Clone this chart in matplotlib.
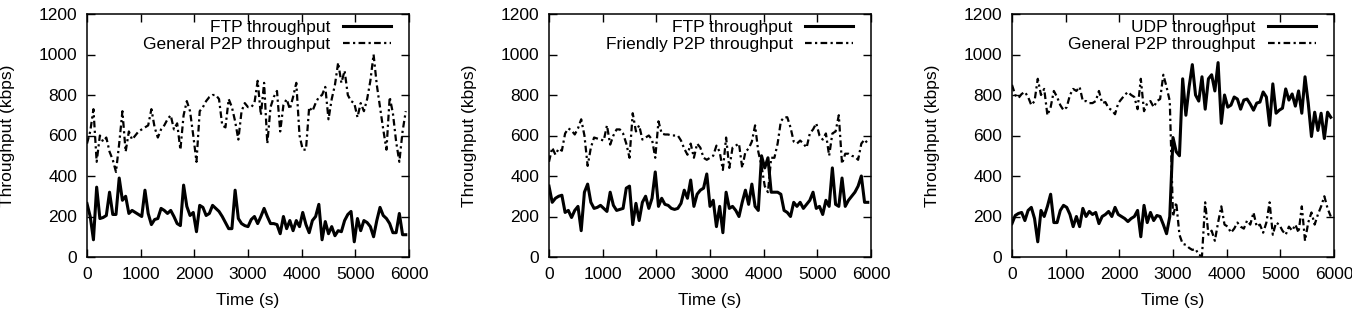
import numpy as np
import matplotlib
matplotlib.use("Agg")
import matplotlib.pyplot as plt

plt.rcParams["font.family"] = ["Liberation Sans", "DejaVu Sans"]
plt.rcParams["font.size"] = 12.5

# sampling interval of every series (s)
step = 60

# panel 1: FTP vs general P2P
ftp_1 = [264, 200, 85, 345, 190, 195, 205, 320, 210, 210,
         390, 280, 300, 215, 230, 220, 210, 200, 330, 215,
         160, 185, 190, 240, 230, 215, 230, 200, 165, 155,
         355, 250, 205, 220, 125, 255, 245, 205, 215, 255,
         240, 225, 200, 170, 140, 140, 330, 190, 165, 155,
         150, 185, 200, 165, 200, 240, 200, 165, 165, 160,
         115, 200, 140, 180, 130, 180, 150, 220, 160, 120,
         180, 200, 260, 85, 175, 115, 150, 105, 130, 125,
         180, 210, 225, 75, 190, 130, 180, 170, 150, 100,
         180, 245, 205, 190, 165, 120, 120, 215, 110, 110]
p2p_1 = [560, 620, 730, 470, 600, 570, 590, 520, 480, 420,
         560, 720, 520, 620, 580, 600, 620, 630, 640, 650,
         730, 640, 590, 630, 650, 680, 700, 630, 660, 530,
         700, 770, 720, 600, 470, 720, 740, 770, 790, 800,
         800, 780, 650, 640, 780, 740, 670, 580, 720, 760,
         740, 740, 760, 870, 700, 860, 560, 740, 790, 820,
         620, 750, 780, 730, 790, 860, 600, 530, 530, 740,
         720, 760, 790, 800, 840, 680, 780, 850, 960, 860,
         920, 800, 770, 760, 690, 760, 720, 780, 870, 1000,
         850, 740, 630, 530, 790, 710, 570, 470, 620, 720]

# panel 2: FTP vs friendly P2P
ftp_2 = [350, 270, 290, 300, 305, 220, 230, 195, 230, 250,
         130, 320, 360, 270, 240, 245, 255, 240, 225, 320,
         255, 230, 235, 240, 340, 350, 160, 265, 180, 270,
         300, 240, 290, 420, 250, 290, 260, 255, 240, 235,
         240, 265, 330, 290, 380, 250, 310, 330, 340, 410,
         250, 280, 150, 250, 120, 320, 240, 250, 230, 200,
         270, 330, 260, 360, 250, 230, 500, 440, 490, 320,
         320, 320, 310, 230, 220, 200, 270, 250, 270, 240,
         260, 280, 320, 240, 250, 210, 280, 250, 440, 260,
         250, 390, 250, 280, 300, 320, 350, 400, 270, 270]
p2p_2 = [470, 540, 505, 535, 525, 610, 635, 625, 605, 635,
         680, 600, 450, 540, 590, 585, 580, 575, 650, 555,
         600, 630, 630, 610, 560, 490, 710, 620, 650, 580,
         590, 600, 580, 490, 670, 610, 605, 605, 600, 600,
         600, 575, 535, 505, 560, 490, 560, 540, 490, 480,
         490, 500, 550, 520, 430, 590, 440, 540, 550, 560,
         440, 520, 535, 570, 650, 520, 450, 350, 320, 490,
         490, 560, 670, 690, 690, 640, 570, 560, 575, 560,
         540, 610, 630, 660, 600, 580, 610, 500, 610, 620,
         700, 460, 510, 510, 500, 495, 480, 560, 580, 560]

# panel 3: UDP vs general P2P
udp_3 = [165, 205, 215, 220, 180, 230, 245, 190, 75, 230,
         200, 250, 310, 170, 170, 230, 255, 245, 210, 150,
         200, 150, 240, 200, 225, 210, 220, 165, 200, 210,
         225, 200, 245, 210, 200, 190, 175, 190, 200, 230,
         100, 255, 170, 220, 180, 205, 200, 160, 115, 200,
         590, 520, 500, 880, 700, 840, 950, 800, 770, 890,
         730, 880, 900, 820, 960, 660, 800, 740, 750, 790,
         780, 730, 775, 780, 755, 725, 760, 765, 815, 790,
         650, 855, 710, 725, 735, 830, 775, 805, 745, 820,
         710, 890, 760, 595, 715, 625, 710, 585, 715, 690]
p2p_3 = [850, 800, 785, 805, 815, 790, 750, 770, 880, 800,
         830, 700, 740, 820, 790, 750, 725, 740, 800, 830,
         820, 840, 770, 770, 760, 760, 770, 820, 760, 765,
         735, 725, 705, 760, 780, 800, 815, 800, 790, 730,
         880, 720, 760, 770, 740, 770, 780, 900, 840, 770,
         200, 270, 110, 65, 60, 45, 35, 40, 10, 5,
         270, 110, 130, 80, 170, 250, 160, 150, 120, 140,
         170, 150, 140, 180, 160, 220, 150, 160, 120, 170,
         270, 110, 170, 160, 130, 110, 150, 130, 160, 120,
         250, 80, 170, 220, 160, 210, 250, 300, 240, 200]

panels = [
    (ftp_1, p2p_1, "FTP throughput", "General P2P throughput"),
    (ftp_2, p2p_2, "FTP throughput", "Friendly P2P throughput"),
    (udp_3, p2p_3, "UDP throughput", "General P2P throughput"),
]
lefts = [87, 549, 1012]

W, H = 1352, 312
fig = plt.figure(figsize=(W / 100, H / 100), dpi=100)

for (solid, dashed, solid_label, dashed_label), left in zip(panels, lefts):
    ax = fig.add_axes([left / W, 55 / H, 322 / W, 243 / H])
    t_solid = np.arange(len(solid)) * step
    t_dashed = np.arange(len(dashed)) * step
    ax.plot(t_solid, solid, color="black", lw=2.2, label=solid_label)
    ax.plot(t_dashed, dashed, color="black", lw=1.6, linestyle=(0, (3, 1.5, 1, 1.5)), label=dashed_label)

    ax.set_xlim(0, 6000)
    ax.set_ylim(0, 1200)
    ax.set_xticks(range(0, 6001, 1000))
    ax.set_yticks(range(0, 1201, 200))
    ax.tick_params(direction="in", length=6, width=1, top=True, right=True, pad=7)
    for sp in ax.spines.values():
        sp.set_linewidth(1.1)

    ax.set_xlabel("Time (s)")
    ax.set_ylabel("Throughput (kbps)")
    ax.xaxis.set_label_coords(0.5, -0.15)
    ax.yaxis.set_label_coords(-0.225, 0.5)

    leg = ax.legend(loc="upper right", bbox_to_anchor=(0.945, 0.975), frameon=False,
                    markerfirst=False, handlelength=2.8, handletextpad=0.7,
                    labelspacing=0.1, borderpad=0, borderaxespad=0)

fig.savefig("out.png", dpi=100)
